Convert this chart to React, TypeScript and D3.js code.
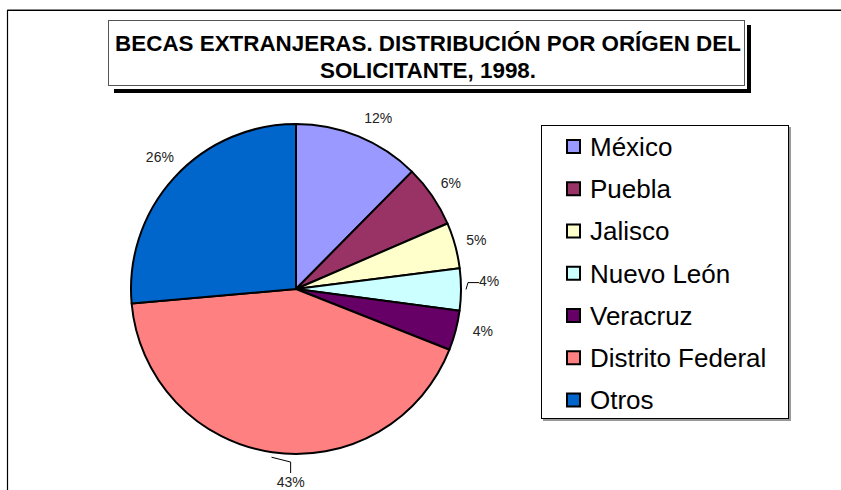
import { useRef, useEffect } from "react";
import * as d3 from "d3";

// data (share of grants, %)
const categories = ["México", "Puebla", "Jalisco", "Nuevo León", "Veracruz", "Distrito Federal", "Otros"];
const shares = [12.4, 6.1, 4.5, 4.1, 3.9, 42.6, 26.4];
const colors = ["#9999FF", "#993366", "#FFFFCC", "#CCFFFF", "#660066", "#FF8080", "#0066CC"];
const titleLines = ["BECAS EXTRANJERAS. DISTRIBUCIÓN POR ORÍGEN DEL", "SOLICITANTE, 1998."];

// label nudges (px) and leader styles, per slice
const labelNudge = [[10, 5], [-2, 1], [-3, 1], [3, -9], [3, -6], [22, 5], [4, -4]];
const leaders = [null, null, null, "side", null, "top", null];

const W = 841;
const H = 490;

const App = () => {
  const svgRef = useRef(null);

  useEffect(() => {
    document.body.style.margin = "0";
    const svg = d3.select(svgRef.current).attr("width", W).attr("height", H).style("background", "#fff");
    svg.selectAll("*").remove();
    const font = "'Liberation Sans', Arial, sans-serif";

    // outer frame (only top and left edges are visible)
    svg.append("path").attr("d", `M7.5,${H} V9.5 H${W}`).attr("fill", "none").attr("stroke", "#888").attr("stroke-width", 1);
    svg.append("path").attr("d", `M7.5,${H} V10.5 H${W}`).attr("fill", "none").attr("stroke", "#000").attr("stroke-width", 1.2);

    // title box with drop shadow
    const t = svg.append("g");
    t.append("rect").attr("x", 114).attr("y", 25).attr("width", 637).attr("height", 68).attr("fill", "#000");
    t.append("rect").attr("x", 106).attr("y", 18).attr("width", 641).attr("height", 71).attr("fill", "#fff");
    t.append("rect").attr("x", 108.5).attr("y", 20.5).attr("width", 636).attr("height", 65)
      .attr("fill", "#fff").attr("stroke", "#555").attr("stroke-width", 1);
    t.selectAll("text")
      .data(titleLines)
      .join("text")
      .attr("x", 428)
      .attr("y", (d, i) => 51 + i * 27)
      .attr("text-anchor", "middle")
      .attr("font-family", font)
      .attr("font-weight", "bold")
      .attr("font-size", 22.4)
      .text((d) => d);

    // pie
    const cx = 296;
    const cy = 289;
    const r = 165;
    const total = d3.sum(shares);
    const pie = d3.pie().sort(null).value((d) => d.v);
    const arcs = pie(categories.map((c, i) => ({ c, v: shares[i], i })));
    const arc = d3.arc().innerRadius(0).outerRadius(r);
    const labelArc = d3.arc().innerRadius(190).outerRadius(190);
    const leaderArc = d3.arc().innerRadius(r + 5).outerRadius(r + 5);

    const g = svg.append("g").attr("transform", `translate(${cx},${cy})`);
    g.selectAll(".slice")
      .data(arcs)
      .join("path")
      .attr("class", "slice")
      .attr("d", arc)
      .attr("fill", (d) => colors[d.data.i])
      .attr("stroke", "#000")
      .attr("stroke-width", 2)
      .attr("stroke-linejoin", "round");

    const labelPos = (d) => {
      const [x, y] = labelArc.centroid(d);
      const n = labelNudge[d.data.i];
      return [x + n[0], y + n[1]];
    };

    // leader lines for the labels that were moved off their slice
    g.selectAll(".leader")
      .data(arcs.filter((d) => leaders[d.data.i]))
      .join("path")
      .attr("class", "leader")
      .attr("fill", "none")
      .attr("stroke", "#000")
      .attr("stroke-width", 1)
      .attr("d", (d) => {
        const s = leaderArc.centroid(d);
        const [lx, ly] = labelPos(d);
        if (leaders[d.data.i] === "side") {
          const ex = lx - 10;
          return d3.line()([s, [ex - 11, ly + 2], [ex, ly + 2]]);
        }
        const ey = ly - 9;
        return d3.line()([s, [lx, ey - 11], [lx, ey]]);
      });

    g.selectAll(".lbl")
      .data(arcs)
      .join("text")
      .attr("class", "lbl")
      .attr("x", (d) => labelPos(d)[0])
      .attr("y", (d) => labelPos(d)[1])
      .attr("dy", "0.36em")
      .attr("text-anchor", "middle")
      .attr("font-family", font)
      .attr("font-size", 14)
      .attr("fill", "#222")
      .text((d) => Math.round((d.data.v / total) * 100) + "%");

    // legend
    const lg = svg.append("g");
    lg.append("rect").attr("x", 543).attr("y", 127).attr("width", 248).attr("height", 294).attr("fill", "#999");
    lg.append("rect").attr("x", 541.5).attr("y", 125.5).attr("width", 247).attr("height", 293)
      .attr("fill", "#fff").attr("stroke", "#000").attr("stroke-width", 1);
    const rowY = d3.scalePoint().domain(categories).range([146.5, 400]);
    const items = lg.selectAll(".item").data(categories).join("g").attr("class", "item")
      .attr("transform", (d) => `translate(0,${rowY(d)})`);
    items.append("rect")
      .attr("x", 567).attr("y", -6.5).attr("width", 13).attr("height", 13)
      .attr("fill", (d, i) => colors[i]).attr("stroke", "#000").attr("stroke-width", 2);
    items.append("text")
      .attr("x", 590).attr("dy", "0.36em")
      .attr("font-family", font).attr("font-size", 26)
      .text((d) => d);
  }, []);

  return <svg ref={svgRef}></svg>;
};

export default App;
